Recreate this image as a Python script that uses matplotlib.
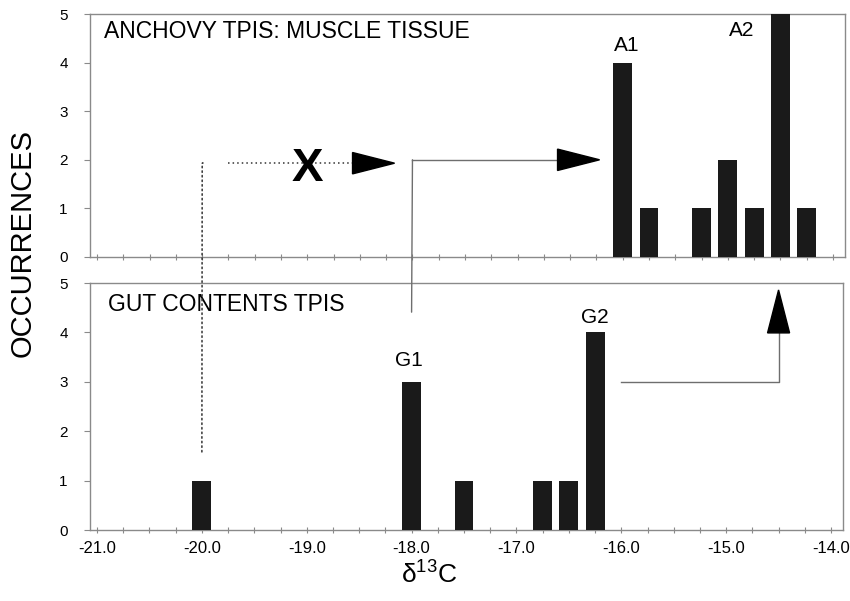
import matplotlib
matplotlib.use("Agg")
import matplotlib.pyplot as plt
from matplotlib.patches import Polygon, ConnectionPatch
import numpy as np

plt.rcParams['font.family'] = ['Liberation Sans', 'DejaVu Sans']
plt.rcParams['mathtext.fontset'] = 'custom'
plt.rcParams['mathtext.rm'] = 'Liberation Sans'
plt.rcParams['mathtext.it'] = 'Liberation Sans:italic'

# ---- data ----
muscle_x = [-16.0, -15.75, -15.25, -15.0, -14.75, -14.5, -14.25]
muscle_n = [4, 1, 1, 2, 1, 5, 1]
gut_x = [-20.0, -18.0, -17.5, -16.75, -16.5, -16.25]
gut_n = [1, 3, 1, 1, 1, 4]
x_ticks = [-21.0, -20.0, -19.0, -18.0, -17.0, -16.0, -15.0, -14.0]
x_tick_labels = ['-21.0', '-20.0', '-19.0', '-18.0', '-17.0', '-16.0', '-15.0', '-14.0']
y_ticks = [0, 1, 2, 3, 4, 5]
top_title = 'ANCHOVY TPIS: MUSCLE TISSUE'
bot_title = 'GUT CONTENTS TPIS'

BAR_W = 0.18
BAR_C = '#1a1a1a'
FRAME_C = '#8a8a8a'
XLIM = (-21.067, -13.886)

fig = plt.figure(figsize=(8.5, 6.01), dpi=100)
ax_top = fig.add_axes([0.1059, 0.5724, 0.8882, 0.4043])
ax_bot = fig.add_axes([0.1059, 0.1181, 0.8858, 0.4110])

for ax in (ax_top, ax_bot):
    ax.set_xlim(*XLIM)
    ax.set_ylim(0, 5)
    for s in ax.spines.values():
        s.set_color(FRAME_C)
        s.set_linewidth(1.0)
    ax.set_xticks(x_ticks)
    ax.set_xticks(np.arange(-21.0, -13.9, 0.25), minor=True)
    ax.set_yticks(y_ticks)
    ax.tick_params(axis='x', which='both', direction='inout', length=4,
                   color=FRAME_C, width=0.8)
    ax.tick_params(axis='y', direction='out', length=4, color=FRAME_C,
                   width=0.8, pad=12, labelsize=11)
    ax.set_facecolor('white')

ax_top.bar(muscle_x, muscle_n, width=BAR_W, color=BAR_C, zorder=3)
ax_bot.bar(gut_x, gut_n, width=BAR_W, color=BAR_C, zorder=3)

ax_top.tick_params(axis='x', labelbottom=False)
ax_bot.set_xticklabels(x_tick_labels)
ax_bot.tick_params(axis='x', which='major', labelsize=12, pad=6)

# panel titles
ax_top.text(0.018, 0.975, top_title, transform=ax_top.transAxes,
            fontsize=16.5, ha='left', va='top')
ax_bot.text(0.024, 0.96, bot_title, transform=ax_bot.transAxes,
            fontsize=16.5, ha='left', va='top')

# peak labels
ax_top.text(-15.96, 4.36, 'A1', fontsize=15, ha='center', va='center')
ax_top.text(-14.87, 4.67, 'A2', fontsize=15, ha='center', va='center')
ax_bot.text(-18.03, 3.44, 'G1', fontsize=15, ha='center', va='center')
ax_bot.text(-16.25, 4.31, 'G2', fontsize=15, ha='center', va='center')

# axis labels
fig.text(0.027, 0.596, 'OCCURRENCES', rotation=90, fontsize=21,
         ha='center', va='center')
fig.text(0.505, 0.043, r'δ$^{13}$C', fontsize=19, ha='center', va='center')

# ---- connectors ----
LINE_C = '#6e6e6e'
DOT = (0, (1, 2))

def tri_h(ax, base_x, tip_x, y, half_h):
    p = Polygon([[tip_x, y], [base_x, y + half_h], [base_x, y - half_h]],
                closed=True, color='black', zorder=5, clip_on=False)
    ax.add_patch(p)

def tri_v(ax, x, base_y, tip_y, half_w):
    p = Polygon([[x, tip_y], [x - half_w, base_y], [x + half_w, base_y]],
                closed=True, color='black', zorder=5, clip_on=False)
    ax.add_patch(p)

# dotted path from G-value -20 to the top panel
con = ConnectionPatch(xyA=(-20.0, 1.58), coordsA=ax_bot.transData,
                      xyB=(-20.0, 1.93), coordsB=ax_top.transData,
                      color='#333333', lw=1.1, linestyle=DOT)
fig.add_artist(con)
ax_top.plot([-20.0, -19.96], [1.93, 1.93], color='#333333', lw=1.1,
            linestyle=DOT)
ax_top.plot([-19.75, -18.57], [1.93, 1.93], color='#333333', lw=1.1,
            linestyle=DOT)
tri_h(ax_top, -18.57, -18.17, 1.93, 0.22)
ax_top.text(-19.0, 1.82, 'X', fontsize=34, fontweight='bold',
            ha='center', va='center', zorder=6)

# solid path from G1 to A1
con2 = ConnectionPatch(xyA=(-18.0, 4.41), coordsA=ax_bot.transData,
                       xyB=(-18.0, 2.0), coordsB=ax_top.transData,
                       color=LINE_C, lw=1.0)
fig.add_artist(con2)
ax_top.plot([-18.0, -16.62], [2.0, 2.0], color=LINE_C, lw=1.0)
tri_h(ax_top, -16.62, -16.22, 2.0, 0.22)

# solid path from G2 to A2
ax_bot.plot([-16.0, -14.5, -14.5], [3.0, 3.0, 3.99], color=LINE_C, lw=1.0)
tri_v(ax_bot, -14.5, 3.99, 4.86, 0.105)

fig.savefig('out.png', dpi=100)
